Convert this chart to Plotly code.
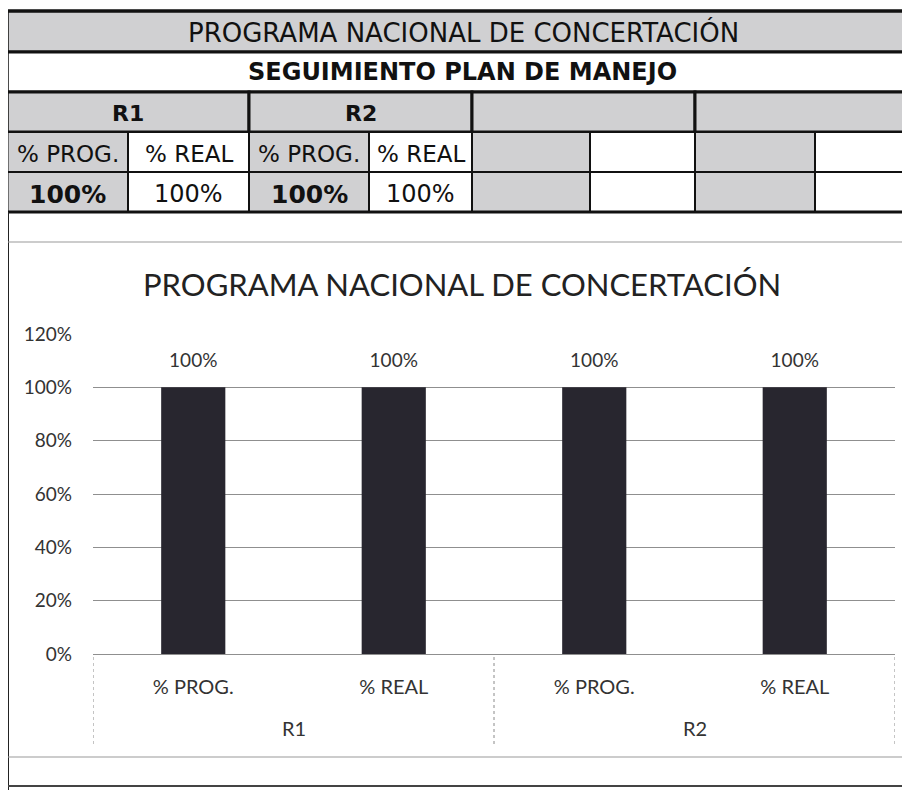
import plotly.graph_objects as go

# ---------------- data ----------------
groups = ["R1", "R1", "R2", "R2"]
categories = ["% PROG.", "% REAL", "% PROG.", "% REAL"]
values = [1.0, 1.0, 1.0, 1.0]
y_tick_values = [0, 0.2, 0.4, 0.6, 0.8, 1.0, 1.2]
chart_title = "PROGRAMA NACIONAL DE CONCERTACIÓN"

table_title = "PROGRAMA NACIONAL DE CONCERTACIÓN"
table_subtitle = "SEGUIMIENTO PLAN DE MANEJO"
table_groups = ["R1", "R2", "", ""]
table_headers = ["% PROG.", "% REAL", "% PROG.", "% REAL", "", "", "", ""]
table_values = [1.0, 1.0, 1.0, 1.0, None, None, None, None]

# ---------------- layout constants (pixels of the 910x790 page) ----------------
OFF = 8                      # default body margin of the html page
FW, FH = 910 - OFF, 790 - OFF
col_x = [7, 128, 249, 369, 472, 590, 695, 815, 912]
row_y = [11, 52, 92, 132, 172, 212]
plot_x0, plot_x1 = 93, 895
y0_px, y120_px = 654, 334
GRAY = "#d0d0d2"
TFONT = "DejaVu Sans, sans-serif"
CFONT = "Lato, Open Sans, sans-serif"


def px(x):
    return (x - OFF) / FW


def py(y):
    return 1 - (y - OFF) / FH


shapes = []
annotations = []


def rect(x0, y0, x1, y1, fill, lw=2):
    shapes.append(dict(type="rect", xref="paper", yref="paper",
                       x0=px(x0), x1=px(x1), y0=py(y1), y1=py(y0),
                       fillcolor=fill, line=dict(color="#111111", width=lw),
                       layer="below"))


def text(x, y, s, size, bold=False, font=TFONT, color="#111111"):
    if bold:
        s = "<b>" + s + "</b>"
    annotations.append(dict(xref="paper", yref="paper", x=px(x), y=py(y),
                            text=s, showarrow=False, xanchor="center",
                            yanchor="middle",
                            font=dict(family=font, size=size, color=color)))


# row 1 & 2
rect(col_x[0], row_y[0], col_x[-1], row_y[1], GRAY, 3)
text(464, (row_y[0] + row_y[1]) / 2 + 1, table_title, 26)
rect(col_x[0], row_y[1], col_x[-1], row_y[2], "white", 3)
text(462, (row_y[1] + row_y[2]) / 2, table_subtitle, 24, bold=True)
# row 3 (group headers spanning two columns)
for i, g in enumerate(table_groups):
    xa, xb = col_x[2 * i], col_x[2 * i + 2]
    rect(xa, row_y[2], xb, row_y[3], GRAY, 3)
    if g:
        text((xa + xb) / 2, (row_y[2] + row_y[3]) / 2 + 1, g, 22, bold=True)
# rows 4 & 5
for j in range(8):
    xa, xb = col_x[j], col_x[j + 1]
    fill = GRAY if j % 2 == 0 else "white"
    rect(xa, row_y[3], xb, row_y[4], fill, 2)
    rect(xa, row_y[4], xb, row_y[5], fill, 2)
    if table_headers[j]:
        text((xa + xb) / 2, (row_y[3] + row_y[4]) / 2 + 2, table_headers[j], 23)
    if table_values[j] is not None:
        bold = (j % 2 == 0)
        text((xa + xb) / 2, (row_y[4] + row_y[5]) / 2 + 2,
             f"{table_values[j]:.0%}", 25 if bold else 24, bold=bold)
# outer table frame
shapes.append(dict(type="rect", xref="paper", yref="paper",
                   x0=px(col_x[0]), x1=px(col_x[-1]),
                   y0=py(row_y[-1]), y1=py(row_y[0]),
                   line=dict(color="#111111", width=3)))

# chart frame lines
shapes.append(dict(type="line", xref="paper", yref="paper",
                   x0=px(8), x1=px(8), y0=py(212), y1=py(800),
                   line=dict(color="#222222", width=2)))
for yy in (242, 757):
    shapes.append(dict(type="line", xref="paper", yref="paper",
                       x0=px(8), x1=px(912), y0=py(yy), y1=py(yy),
                       line=dict(color="#9a9a9a", width=1.2)))
shapes.append(dict(type="line", xref="paper", yref="paper",
                   x0=px(8), x1=px(912), y0=py(786), y1=py(786),
                   line=dict(color="#444444", width=2)))

# chart title
text(462, 284, chart_title, 31, font=CFONT, color="#222222")

# ---------------- x positions derived from the data ----------------
idx = list(range(len(categories)))
group_names = list(dict.fromkeys(groups))
group_members = {g: [i for i, gg in enumerate(groups) if gg == g] for g in group_names}

# group labels and divider lines of the two-level category axis
for g in group_names:
    mem = group_members[g]
    annotations.append(dict(xref="x", yref="paper", x=sum(mem) / len(mem),
                            y=py(728), text=g, showarrow=False,
                            xanchor="center", yanchor="middle",
                            font=dict(family=CFONT, size=20, color="#333333")))
bounds = sorted({min(m) - 0.5 for m in group_members.values()} |
                {max(m) + 0.5 for m in group_members.values()})
for b in bounds:
    shapes.append(dict(type="line", xref="x", yref="paper", x0=b, x1=b,
                       y0=py(744), y1=py(654),
                       line=dict(color="#8a8a8a", width=1, dash="dot")))

fig = go.Figure()
fig.add_trace(go.Bar(
    x=idx, y=values, width=0.32,
    marker=dict(color="#28262f", line=dict(width=0)),
    showlegend=False, hoverinfo="skip",
))
fig.add_trace(go.Scatter(
    x=idx, y=values, mode="markers+text",
    text=[f"{v:.0%}" for v in values], textposition="top center",
    marker=dict(size=24, color="rgba(0,0,0,0)"),
    textfont=dict(family=CFONT, size=19, color="#333333"),
    showlegend=False, hoverinfo="skip", cliponaxis=False,
))

fig.update_layout(
    width=FW, height=FH,
    margin=dict(l=0, r=0, t=0, b=0),
    paper_bgcolor="white", plot_bgcolor="white",
    shapes=shapes, annotations=annotations,
    xaxis=dict(domain=[px(plot_x0), px(plot_x1)], range=[-0.5, len(idx) - 0.5],
               tickvals=idx, ticktext=categories,
               showgrid=False, showline=True, linecolor="#8f8f8f", linewidth=1,
               zeroline=False,
               tickfont=dict(family=CFONT, size=20, color="#333333"),
               automargin=False, ticks="", ticklabelstandoff=15),
    yaxis=dict(domain=[py(y0_px), py(y120_px)], range=[0, 1.2],
               tickvals=y_tick_values, tickformat=".0%",
               showgrid=True, gridcolor="#8f8f8f", gridwidth=1,
               zeroline=False, showline=False,
               tickfont=dict(family=CFONT, size=19, color="#333333"),
               ticklabelstandoff=20, automargin=False),
)

fig.write_html("out.html")
